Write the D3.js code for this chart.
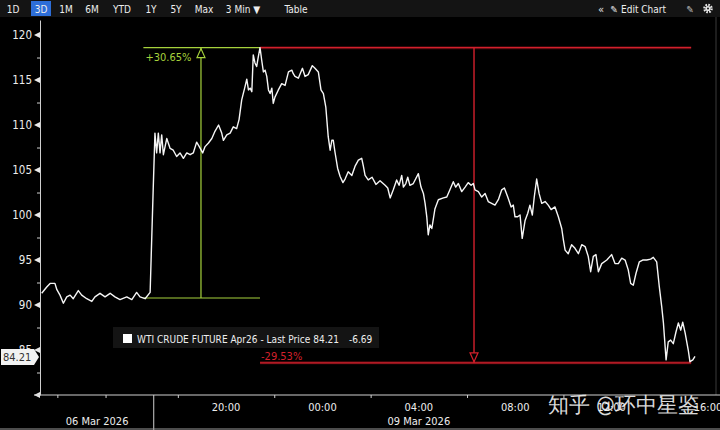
<!DOCTYPE html>
<html>
<head>
<meta charset="utf-8">
<script src="https://cdn.jsdelivr.net/npm/d3@7"></script>
<style>
  body { margin: 0; background: #000; }
  svg { display: block; }
  text { font-family: 'DejaVu Sans Condensed', 'Liberation Sans Narrow', sans-serif; }
</style>
</head>
<body>
<div id="chart-area"></div>
<script>
// session clock in hours: 20 = 20:00, 24 = 00:00, 28 = 04:00 ...
var hours = [12.35, 12.56, 12.70, 12.90, 12.98, 13.11, 13.25, 13.39, 13.53, 13.66, 13.87, 14.01, 14.22, 14.43, 14.56, 14.77,
    14.98, 15.19, 15.39, 15.60, 15.88, 16.09, 16.29, 16.43, 16.64, 16.85, 16.98, 17.05, 17.12, 17.19, 17.26, 17.33,
    17.40, 17.54, 17.68, 17.81, 17.95, 18.09, 18.23, 18.37, 18.51, 18.64, 18.78, 18.89, 19.03, 19.13, 19.27, 19.41,
    19.54, 19.69, 19.82, 19.89, 20.03, 20.17, 20.30, 20.44, 20.54, 20.65, 20.79, 20.86, 20.93, 21.00, 21.07, 21.13,
    21.20, 21.27, 21.34, 21.41, 21.48, 21.55, 21.62, 21.69, 21.76, 21.83, 21.90, 21.96, 22.03, 22.17, 22.31, 22.45,
    22.59, 22.73, 22.79, 22.86, 23.00, 23.17, 23.28, 23.41, 23.58, 23.69, 23.83, 23.94, 24.04, 24.14, 24.24, 24.32,
    24.39, 24.45, 24.52, 24.63, 24.73, 24.85, 24.94, 25.07, 25.22, 25.35, 25.49, 25.63, 25.70, 25.77, 25.90, 26.06,
    26.22, 26.39, 26.60, 26.71, 26.81, 26.94, 27.08, 27.18, 27.29, 27.36, 27.46, 27.54, 27.63, 27.77, 27.98, 28.09,
    28.19, 28.26, 28.33, 28.39, 28.46, 28.54, 28.67, 28.81, 29.02, 29.16, 29.29, 29.43, 29.53, 29.64, 29.78, 29.92,
    30.05, 30.17, 30.26, 30.33, 30.47, 30.61, 30.75, 30.88, 31.02, 31.16, 31.30, 31.44, 31.55, 31.69, 31.83, 31.92,
    31.99, 32.10, 32.20, 32.29, 32.41, 32.52, 32.61, 32.71, 32.79, 32.89, 32.99, 33.10, 33.24, 33.37, 33.49, 33.65,
    33.79, 33.93, 34.00, 34.07, 34.20, 34.34, 34.48, 34.62, 34.76, 34.90, 35.03, 35.13, 35.24, 35.35, 35.45, 35.59,
    35.80, 36.00, 36.14, 36.28, 36.42, 36.56, 36.69, 36.79, 36.90, 37.01, 37.15, 37.29, 37.46, 37.62, 37.73, 37.87,
    37.98, 38.08, 38.15, 38.26, 38.35, 38.45, 38.56, 38.67, 38.77, 38.87, 38.95, 39.05, 39.18, 39.25, 39.37, 39.46];
var prices = [91.3, 92.0, 92.4, 92.4, 91.7, 91.1, 90.2, 90.9, 91.1, 90.7, 91.6, 91.1, 90.7, 90.4, 90.9, 91.3,
    90.9, 91.3, 90.9, 90.6, 90.9, 90.6, 91.4, 90.9, 90.7, 91.4, 103.1, 109.1, 106.9, 109.1, 106.9, 108.9,
    106.7, 108.5, 107.4, 107.2, 106.5, 106.9, 106.3, 106.9, 106.7, 106.9, 108.1, 107.6, 106.9, 107.6, 108.0, 108.5,
    109.3, 110.0, 109.1, 108.3, 108.9, 109.1, 109.8, 109.6, 110.6, 112.8, 114.3, 115.1, 113.9, 114.1, 113.7, 117.8,
    116.9, 116.5, 117.6, 118.6, 117.2, 115.9, 116.1, 115.4, 113.9, 113.5, 114.1, 112.4, 113.1, 113.9, 114.6, 114.4,
    115.9, 116.1, 115.7, 115.4, 115.2, 116.3, 115.4, 115.6, 116.6, 116.3, 115.9, 113.9, 113.5, 112.0, 108.7, 107.2,
    108.3, 108.3, 107.0, 105.2, 104.3, 103.6, 104.0, 104.8, 104.4, 105.4, 106.1, 106.3, 105.4, 104.4, 103.9, 104.2,
    103.4, 103.8, 103.3, 103.0, 101.9, 102.8, 103.9, 103.3, 104.4, 103.1, 103.5, 104.2, 103.3, 103.5, 104.6, 103.1,
    102.4, 101.3, 99.8, 97.8, 98.9, 98.5, 100.7, 101.7, 101.9, 102.0, 102.8, 103.7, 103.1, 103.5, 102.6, 103.1,
    103.6, 103.3, 103.5, 102.8, 102.6, 102.0, 102.4, 101.5, 101.3, 101.1, 101.7, 102.8, 103.0, 102.0, 100.9, 101.1,
    99.8, 99.8, 100.0, 97.4, 99.4, 100.2, 101.1, 100.0, 102.0, 104.0, 102.4, 101.3, 101.5, 101.1, 100.6, 100.9,
    99.8, 98.5, 97.2, 96.1, 95.7, 96.7, 96.3, 95.7, 96.7, 96.5, 95.4, 93.7, 95.4, 95.6, 93.7, 94.6,
    95.0, 95.6, 94.6, 94.6, 95.2, 95.0, 93.9, 92.4, 92.2, 93.5, 94.8, 95.0, 95.0, 95.1, 95.3, 94.8,
    92.0, 89.8, 88.0, 83.9, 85.9, 86.1, 85.7, 87.0, 88.0, 87.2, 88.1, 86.9, 85.0, 83.7, 83.9, 84.3];

var majorTicks = [80, 85, 90, 95, 100, 105, 110, 115, 120];
var minorTicks = [82.5, 87.5, 92.5, 97.5, 102.5, 107.5, 112.5, 117.5];
var timeTicks = [20, 24, 28, 32, 36, 40];
var timeLabels = ['20:00', '00:00', '04:00', '08:00', '12:00', '16:00'];
var minorTimeTicks = [13, 15, 18, 22, 26, 30, 34, 38];
var dateLabels = ['06 Mar 2026', '09 Mar 2026'];
var dateHours = [14.65, 28];
var sessionBreak = 17;

var lastPrice = 84.21;
var netChange = -6.69;
var seriesName = 'WTI CRUDE FUTURE Apr26 - Last Price';

// measuring tool: [low, high] legs
var upHours = [16.57, 21.41];
var upLevels = [90.78, 118.6];
var upArrowHour = 18.96;
var upLabel = '+30.65%';
var downHours = [21.41, 39.3];
var downLevels = [118.6, 83.58];
var downArrowHour = 30.29;
var downLabel = '-29.53%';

var buttons = ['1D', '3D', '1M', '6M', 'YTD', '1Y', '5Y', 'Max', '3 Min \u25BC', 'Table'];
var buttonX = [13, 41, 66, 92, 122, 151, 176, 204, 243, 296];

var width = 720, height = 430;

var svg = d3.select('#chart-area')
    .append('svg')
        .attr('width', width)
        .attr('height', height);

svg.append('rect')
    .attr('width', width)
    .attr('height', height)
    .attr('fill', '#000');

var x = d3.scaleLinear()
    .domain([12.28, 40.29])
    .range([40, 715]);

var y = d3.scaleLinear()
    .domain([80, 121.67])
    .range([395, 20]);

// toolbar
svg.append('rect')
    .attr('width', width)
    .attr('height', 17)
    .attr('fill', '#141414');
svg.append('rect')
    .attr('x', 31).attr('y', 1)
    .attr('width', 20).attr('height', 15)
    .attr('fill', '#2d6ed8');
svg.selectAll('text.btn')
    .data(buttons)
    .enter().append('text')
    .attr('class', 'btn')
    .attr('x', (d, i) => buttonX[i])
    .attr('y', 12.5)
    .attr('text-anchor', 'middle')
    .attr('font-size', '10px')
    .attr('fill', '#ededed')
    .text(d => d);

svg.append('text').attr('x', 601).attr('y', 12.5).attr('text-anchor', 'middle')
    .attr('font-size', '11px').attr('fill', '#e6e6e6').text('\u00AB');
svg.append('text').attr('x', 614).attr('y', 12.5).attr('text-anchor', 'middle')
    .attr('font-size', '10px').attr('fill', '#e6e6e6').text('\u270E');
svg.append('text').attr('x', 621).attr('y', 12.5)
    .attr('font-size', '10px').attr('fill', '#ededed').text('Edit Chart');
svg.append('text').attr('x', 690).attr('y', 12.5).attr('text-anchor', 'middle')
    .attr('font-size', '10px').attr('fill', '#bbb').text('\u270E');
// gear icon
svg.append('circle')
    .attr('cx', 708).attr('cy', 8.5).attr('r', 3.6)
    .attr('fill', 'none').attr('stroke', '#e6e6e6').attr('stroke-width', 2.4)
    .attr('stroke-dasharray', '1.6 1.2');
svg.append('circle')
    .attr('cx', 708).attr('cy', 8.5).attr('r', 2.6)
    .attr('fill', '#e6e6e6');
svg.append('circle')
    .attr('cx', 708).attr('cy', 8.5).attr('r', 1)
    .attr('fill', '#141414');

// right frame
svg.append('line')
    .attr('x1', 716).attr('x2', 716).attr('y1', 17).attr('y2', 395)
    .attr('stroke', '#3a3a3a');

// y axis
var yMinorCall = d3.axisLeft(y)
    .tickValues(minorTicks)
    .tickSize(3)
    .tickSizeOuter(0)
    .tickFormat('');
var yg = svg.append('g')
    .attr('transform', 'translate(40,0)')
    .call(yMinorCall);
yg.selectAll('path, line').attr('stroke', '#cfcfcf');

var yAxisCall = d3.axisLeft(y)
    .tickValues(majorTicks)
    .tickSize(0)
    .tickPadding(8)
    .tickFormat(d => d === 80 ? '' : d);
var yg2 = svg.append('g')
    .attr('transform', 'translate(40,0)')
    .call(yAxisCall);
yg2.select('.domain').remove();
yg2.selectAll('text')
    .attr('fill', '#ededed')
    .attr('font-size', '11.5px')
    .attr('font-family', "'DejaVu Sans Condensed', sans-serif");
yg2.selectAll('path.mk')
    .data(majorTicks)
    .enter().append('path')
    .attr('class', 'mk')
    .attr('d', d => 'M-6,' + y(d) + 'L0,' + (y(d) - 3) + 'L0,' + (y(d) + 3) + 'Z')
    .attr('fill', '#e8e8e8');

// x axis
svg.append('line')
    .attr('x1', 34).attr('x2', width).attr('y1', 395).attr('y2', 395)
    .attr('stroke', '#cfcfcf');
var xAxisCall = d3.axisBottom(x)
    .tickValues(minorTimeTicks)
    .tickSize(3)
    .tickSizeOuter(0)
    .tickFormat('');
var xg = svg.append('g')
    .attr('transform', 'translate(0,395)')
    .call(xAxisCall);
xg.select('.domain').remove();
xg.selectAll('line').attr('stroke', '#cfcfcf');

svg.selectAll('text.tlab')
    .data(timeTicks)
    .enter().append('text')
    .attr('class', 'tlab')
    .attr('x', d => x(d))
    .attr('y', 411)
    .attr('text-anchor', 'middle')
    .attr('font-size', '11px')
    .attr('fill', '#ededed')
    .text((d, i) => timeLabels[i]);

svg.selectAll('text.dlab')
    .data(dateLabels)
    .enter().append('text')
    .attr('class', 'dlab')
    .attr('x', (d, i) => x(dateHours[i]))
    .attr('y', 425)
    .attr('text-anchor', 'middle')
    .attr('font-size', '11px')
    .attr('fill', '#ededed')
    .text(d => d);

svg.append('line')
    .attr('x1', x(sessionBreak)).attr('x2', x(sessionBreak))
    .attr('y1', 395).attr('y2', 430)
    .attr('stroke', '#cfcfcf');
svg.append('line')
    .attr('x1', 0).attr('x2', width).attr('y1', 429).attr('y2', 429)
    .attr('stroke', '#9a9a9a');

// measuring tool, up leg (green)
var green = '#a6d23c';
var gUp = svg.append('g');
upLevels.forEach(lv => {
    gUp.append('line')
        .attr('x1', x(upHours[0])).attr('x2', x(upHours[1]))
        .attr('y1', y(lv)).attr('y2', y(lv))
        .attr('stroke', green).attr('stroke-width', 1.2);
});
gUp.append('line')
    .attr('x1', x(upArrowHour)).attr('x2', x(upArrowHour))
    .attr('y1', y(upLevels[1])).attr('y2', y(upLevels[0]))
    .attr('stroke', green).attr('stroke-width', 1.2);
gUp.append('path')
    .attr('d', 'M' + x(upArrowHour) + ',' + (y(upLevels[1]) + 1)
        + 'L' + (x(upArrowHour) - 4) + ',' + (y(upLevels[1]) + 10)
        + 'L' + (x(upArrowHour) + 4) + ',' + (y(upLevels[1]) + 10) + 'Z')
    .attr('fill', '#000').attr('stroke', green).attr('stroke-width', 1.2);
gUp.append('text')
    .attr('x', x(upHours[0]) + 2)
    .attr('y', y(upLevels[1]) + 13)
    .attr('font-size', '11px')
    .attr('fill', green)
    .text(upLabel);

// measuring tool, down leg (red)
var red = '#d3202c';
var gDown = svg.append('g');
downLevels.forEach(lv => {
    gDown.append('line')
        .attr('x1', x(downHours[0])).attr('x2', x(downHours[1]))
        .attr('y1', y(lv)).attr('y2', y(lv))
        .attr('stroke', '#4a080c').attr('stroke-width', 3);
    gDown.append('line')
        .attr('x1', x(downHours[0])).attr('x2', x(downHours[1]))
        .attr('y1', y(lv)).attr('y2', y(lv))
        .attr('stroke', red).attr('stroke-width', 1.3);
});
gDown.append('line')
    .attr('x1', x(downArrowHour)).attr('x2', x(downArrowHour))
    .attr('y1', y(downLevels[0])).attr('y2', y(downLevels[1]))
    .attr('stroke', red).attr('stroke-width', 1.4);
gDown.append('path')
    .attr('d', 'M' + x(downArrowHour) + ',' + (y(downLevels[1]) - 1)
        + 'L' + (x(downArrowHour) - 4) + ',' + (y(downLevels[1]) - 10)
        + 'L' + (x(downArrowHour) + 4) + ',' + (y(downLevels[1]) - 10) + 'Z')
    .attr('fill', '#000').attr('stroke', red).attr('stroke-width', 1.2);
gDown.append('text')
    .attr('x', x(downHours[0]) + 1)
    .attr('y', y(downLevels[1]) - 3)
    .attr('font-size', '11px')
    .attr('fill', red)
    .text(downLabel);

// price line
var line = d3.line()
    .x((d, i) => x(hours[i]))
    .y(d => y(d));
svg.append('path')
    .datum(prices)
    .attr('d', line)
    .attr('fill', 'none')
    .attr('stroke', '#f6f6f6')
    .attr('stroke-width', 1.4)
    .attr('stroke-linejoin', 'round');

// last price tag
var ly = y(lastPrice);
svg.append('path')
    .attr('d', 'M1,' + (ly - 8) + 'L34,' + (ly - 8) + 'L39,' + ly + 'L34,' + (ly + 8) + 'L1,' + (ly + 8) + 'Z')
    .attr('fill', '#f2f2f2');
svg.append('text')
    .attr('x', 3)
    .attr('y', ly + 4)
    .attr('font-size', '11px')
    .attr('fill', '#333')
    .text(lastPrice.toFixed(2));

// legend
var lg = svg.append('g');
lg.append('rect')
    .attr('x', 113).attr('y', 327)
    .attr('width', 266).attr('height', 21)
    .attr('fill', '#141414');
lg.append('rect')
    .attr('x', 123).attr('y', 334)
    .attr('width', 9).attr('height', 9)
    .attr('fill', '#fff');
lg.append('text')
    .attr('x', 137).attr('y', 343)
    .attr('font-size', '10px')
    .attr('fill', '#eee')
    .attr('textLength', 202)
    .text(seriesName + ' ' + lastPrice.toFixed(2));
lg.append('text')
    .attr('x', 349).attr('y', 343)
    .attr('font-size', '10px')
    .attr('fill', '#eee')
    .text(netChange.toFixed(2));

// watermark
svg.append('text')
    .attr('x', 548).attr('y', 412)
    .attr('font-family', "'Noto Sans CJK SC', sans-serif")
    .attr('font-size', '21px')
    .attr('fill', '#f0f0f0')
    .attr('fill-opacity', 0.92)
    .text('知乎 @环中星鉴');
</script>
</body>
</html>
